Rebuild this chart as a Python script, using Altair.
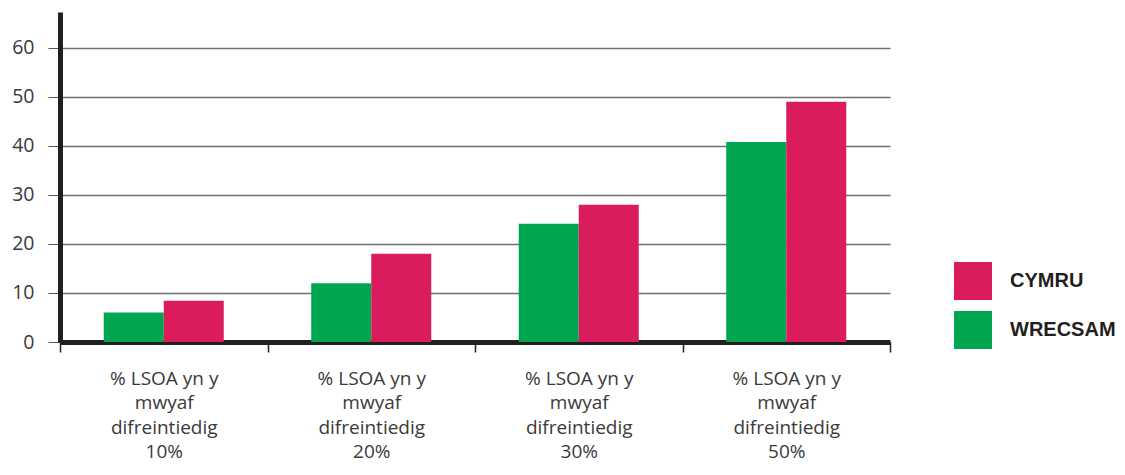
import altair as alt
import pandas as pd

categories = [
    "% LSOA yn y|mwyaf|difreintiedig|10%",
    "% LSOA yn y|mwyaf|difreintiedig|20%",
    "% LSOA yn y|mwyaf|difreintiedig|30%",
    "% LSOA yn y|mwyaf|difreintiedig|50%",
]
wrecsam = [6.0, 12.0, 24.1, 40.8]
cymru = [8.4, 18.0, 28.0, 49.0]
series = ["CYMRU", "WRECSAM"]
colors = ["#DB1C5C", "#00A550"]
y_ticks = [0, 10, 20, 30, 40, 50, 60]

rows = []
for c, w, r in zip(categories, wrecsam, cymru):
    rows.append({"cat": c, "series": "WRECSAM", "value": w})
    rows.append({"cat": c, "series": "CYMRU", "value": r})
df = pd.DataFrame(rows)

font = "Open Sans"

chart = (
    alt.Chart(df)
    .mark_bar()
    .encode(
        x=alt.X(
            "cat:N",
            sort=categories,
            title=None,
            scale=alt.Scale(paddingInner=0, paddingOuter=0),
            axis=alt.Axis(
                labelExpr="isValid(datum.value) ? split(datum.value, '|') : ''",
                labelAngle=0,
                labelFont=font,
                labelFontSize=19,
                labelColor="#3a3a3a",
                labelLineHeight=24.5,
                labelPadding=17,
                labelBaseline="top",
                tickBand="extent",
                tickSize=10,
                tickColor="#231f20",
                tickWidth=1.5,
                domainColor="#231f20",
                domainWidth=5,
                grid=False,
            ),
        ),
        xOffset=alt.XOffset(
            "series:N",
            sort=["WRECSAM", "CYMRU"],
            scale=alt.Scale(paddingInner=0, paddingOuter=0.729),
        ),
        y=alt.Y(
            "value:Q",
            title=None,
            scale=alt.Scale(domain=[0, 67.3], nice=False),
            axis=alt.Axis(
                values=y_ticks,
                labelFont=font,
                labelFontSize=19.5,
                labelColor="#3a3a3a",
                labelPadding=14,
                tickSize=12,
                tickColor="#555555",
                tickWidth=1,
                domainColor="#231f20",
                domainWidth=5,
                grid=True,
                gridColor="#6f6f6f",
                gridWidth=1.5,
            ),
        ),
        color=alt.Color(
            "series:N",
            sort=series,
            scale=alt.Scale(domain=series, range=colors),
            legend=alt.Legend(
                title=None,
                orient="none",
                legendX=894,
                legendY=250,
                padding=0,
                symbolType="square",
                symbolSize=1444,
                symbolStrokeWidth=0,
                symbolOpacity=1,
                labelFont="Liberation Sans",
                labelFontSize=20,
                labelFontWeight="bold",
                labelColor="#231f20",
                labelOffset=18,
                rowPadding=11,
            ),
        ),
    )
    .properties(
        width=830,
        height=330,
        autosize=alt.AutoSizeParams(type="none"),
        padding={"left": 52, "top": 4, "right": 227, "bottom": 125},
    )
    .configure_view(stroke=None)
    .configure_axis(zindex=1)
)

chart.save("out.html", embed_options={"renderer": "svg", "actions": False})
